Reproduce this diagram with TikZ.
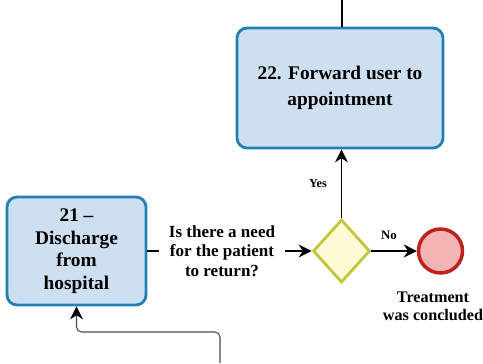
\documentclass[tikz,border=0pt]{standalone}
\usepackage{fontspec}
\setmainfont{Liberation Serif}
\usetikzlibrary{shapes.geometric,arrows.meta}

\definecolor{boxfill}{HTML}{CFDFF2}
\definecolor{boxline}{HTML}{2380B6}
\definecolor{gatefill}{HTML}{FDFBD6}
\definecolor{gateline}{HTML}{C6C43C}
\definecolor{endfill}{HTML}{F3B4B4}
\definecolor{endline}{HTML}{C0211D}

\begin{document}
\begin{tikzpicture}[x=0.02cm,y=-0.02cm,
    task/.style={draw=boxline,fill=boxfill,line width=1.6pt,rounded corners=0.2cm,
        align=center,font=\bfseries},
    gate/.style={draw=gateline,fill=gatefill,line width=1.6pt,diamond,inner sep=0pt,
        minimum width=1.14cm,minimum height=1.26cm},
    stopevent/.style={draw=endline,fill=endfill,line width=2pt,circle,inner sep=0pt,
        minimum size=0.88cm},
    flow/.style={line width=0.6pt,-{Stealth[length=0.26cm,width=0.26cm,color=black]}},
    lbl/.style={font=\bfseries,align=center,inner sep=0pt}]

    \useasboundingbox (0,0) rectangle (483,363);

    % Tasks
    \node [task,minimum width=4.12cm,minimum height=2.4cm,
        font=\fontsize{11}{14.7}\selectfont\bfseries] (forward) at (340,88)
        {22. Forward user to\\appointment};
    \node [task,minimum width=2.78cm,minimum height=2.16cm,
        font=\fontsize{11}{12.9}\selectfont\bfseries] (discharge) at (76.5,251)
        {21 --\\Discharge\\from\\hospital};

    % Gateway and end event
    \node [gate] (decision) at (341.5,251) {};
    \node [stopevent] (concluded) at (440.5,251) {};

    % Texts
    \node [lbl,inner sep=0.2cm,font=\fontsize{9.7}{11}\selectfont\bfseries] (question) at (222,251)
        {Is there a need\\for the patient\\to return?};
    \node [lbl,font=\fontsize{9.2}{10.2}\selectfont\bfseries] (endtext) at (433,306)
        {Treatment\\was concluded};
    \node [lbl,font=\fontsize{7}{8}\selectfont\bfseries] (yes) at (318,184) {Yes};
    \node [lbl,font=\fontsize{7.3}{8}\selectfont\bfseries] (no) at (389,235) {No};

    % Loose ends
    \coordinate (topin) at (342,0);
    \coordinate (loopin) at (220,363);

    % Connectors
    \draw [line width=0.6pt] (topin) -- (forward.north -| topin);
    \draw [line width=0.6pt] (discharge.east) -- (question.west);
    \draw [flow] (question.east) -- (decision.west);
    \draw [flow] (decision.north) -- (forward.south -| decision.north);
    \draw [flow] (decision.east) -- (concluded.west);
    \draw [flow,draw=black!70,rounded corners=0.1cm] (loopin) -- ++(0,-31) -| (discharge.south);

\end{tikzpicture}
\end{document}
